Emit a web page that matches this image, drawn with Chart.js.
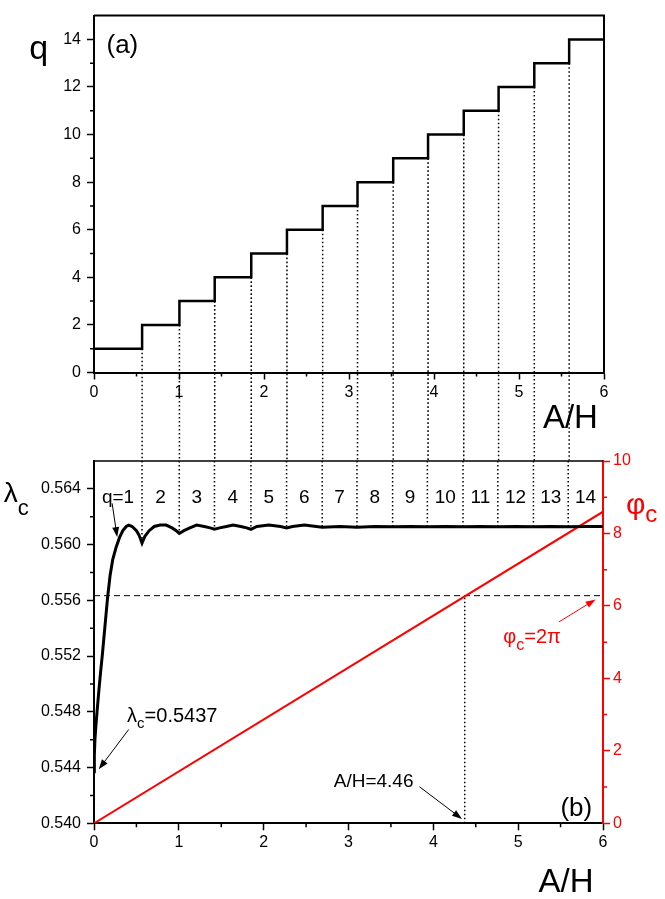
<!DOCTYPE html>
<html lang="en">
<head>
<meta charset="UTF-8">
<title>q and lambda_c versus A/H</title>
<script src="https://cdn.jsdelivr.net/npm/chart.js@4"></script>
<style>
  html, body { margin: 0; padding: 0; background: #fff; }
  #wrap { position: relative; width: 665px; height: 899px; }
  #wrap canvas { position: absolute; left: 0; top: 0; }
</style>
</head>
<body>
<div id="wrap">
  <canvas id="chartQ" width="665" height="899"></canvas>
  <canvas id="chartLam" width="665" height="899"></canvas>
</div>
<script>
// ---- data ----
// panel (a): q jumps to the next integer at these A/H values
const stepX = [0, 0.566, 1.005, 1.42, 1.85, 2.27, 2.69, 3.10, 3.52, 3.93, 4.35, 4.76, 5.18, 5.59];
const qValues = [1, 2, 3, 4, 5, 6, 7, 8, 9, 10, 11, 12, 13, 14];
const xMax = 6;

// panel (b): lambda_c(A/H)
const lamX = [0, 0.004, 0.012, 0.025, 0.04, 0.06, 0.08, 0.10, 0.13, 0.16, 0.19, 0.22, 0.26, 0.30, 0.34, 0.38, 0.41, 0.45, 0.50, 0.53,
              0.566, 0.60, 0.65, 0.71, 0.78, 0.85, 0.92, 0.97, 1.005, 1.06, 1.13, 1.21, 1.30, 1.37, 1.42, 1.48, 1.56, 1.64, 1.73, 1.80,
              1.85, 1.92, 2.06, 2.20, 2.27, 2.34, 2.48, 2.62, 2.69, 2.90, 3.10, 3.31, 3.52, 3.73, 3.93, 4.14, 4.35, 4.55, 4.76, 4.97,
              5.18, 5.38, 5.59, 5.80, 6.0];
const lamY = [0.5437, 0.5449, 0.5461, 0.5472, 0.5483, 0.5497, 0.5510, 0.5522, 0.5542, 0.5562, 0.5578, 0.5589, 0.5598, 0.5605, 0.5610, 0.5613, 0.5614, 0.5613, 0.5610, 0.5607,
              0.5601, 0.5606, 0.5610, 0.5613, 0.5614, 0.5614, 0.5612, 0.5610, 0.5608, 0.5610, 0.5612, 0.5614, 0.5613, 0.5612, 0.5611, 0.5612, 0.5613, 0.5614, 0.5613, 0.5612,
              0.5611, 0.5613, 0.5614, 0.5613, 0.5612, 0.5613, 0.5614, 0.5613, 0.56125, 0.5613, 0.56125, 0.5613, 0.56128, 0.5613, 0.56128, 0.5613, 0.56128, 0.5613, 0.56128, 0.5613,
              0.56128, 0.5613, 0.56128, 0.5613, 0.5613];

// phi_c(A/H), a straight line
const phiX = [0, 6];
const phiY = [0, 8.6];
const phi2pi = 2 * Math.PI;
const xCross = 4.37;

// ticks
const xTicks = [0, 1, 2, 3, 4, 5, 6];
const xMinor = [0.5, 1.5, 2.5, 3.5, 4.5, 5.5];
const qTicks = [0, 2, 4, 6, 8, 10, 12, 14];
const qMinor = [1, 3, 5, 7, 9, 11, 13];
const lamTicks = [0.540, 0.544, 0.548, 0.552, 0.556, 0.560, 0.564];
const lamMinor = [0.542, 0.546, 0.550, 0.554, 0.558, 0.562];
const phiTicks = [0, 2, 4, 6, 8, 10];
const phiMinor = [1, 3, 5, 7, 9];

const FONT = "'Liberation Sans', Arial, Helvetica, sans-serif";
const RED = '#ff0000';
const qGapBottom = -3.7;   // dotted guides run down through the gap into panel (b)
const DOTS = [1.6, 2.4];

function setTicks(list) {
  return s => { s.ticks = list.map(v => ({ value: v })); };
}

function minorTicks(chart, id, vals, len, color) {
  const s = chart.scales[id], ctx = chart.ctx;
  ctx.save();
  ctx.strokeStyle = color;
  ctx.lineWidth = 1.5;
  ctx.beginPath();
  vals.forEach(v => {
    const p = s.getPixelForValue(v);
    if (s.isHorizontal()) { ctx.moveTo(p, s.top); ctx.lineTo(p, s.top + len); }
    else if (s.position === 'left') { ctx.moveTo(s.right, p); ctx.lineTo(s.right - len, p); }
    else { ctx.moveTo(s.left, p); ctx.lineTo(s.left + len, p); }
  });
  ctx.stroke();
  ctx.restore();
}

// parts: [text, size, dy]
function drawText(chart, yId, item) {
  const ctx = chart.ctx;
  const px = chart.scales.x.getPixelForValue(item.x);
  const py = chart.scales[yId].getPixelForValue(item.y);
  ctx.save();
  ctx.fillStyle = item.color || '#000';
  ctx.textBaseline = 'alphabetic';
  ctx.textAlign = 'left';
  let total = 0;
  const w = item.parts.map(p => { ctx.font = p[1] + 'px ' + FONT; const m = ctx.measureText(p[0]).width; total += m; return m; });
  let x = item.align === 'center' ? px - total / 2 : item.align === 'right' ? px - total : px;
  item.parts.forEach((p, i) => {
    ctx.font = p[1] + 'px ' + FONT;
    ctx.fillText(p[0], x, py + (p[2] || 0));
    x += w[i];
  });
  ctx.restore();
}

function drawArrow(chart, yId, a) {
  const ctx = chart.ctx, sx = chart.scales.x, sy = chart.scales[yId];
  const x1 = sx.getPixelForValue(a.from[0]), y1 = sy.getPixelForValue(a.from[1]);
  const x2 = sx.getPixelForValue(a.to[0]), y2 = sy.getPixelForValue(a.to[1]);
  const ang = Math.atan2(y2 - y1, x2 - x1), L = 10, W = 3.5;
  ctx.save();
  ctx.strokeStyle = a.color || '#000';
  ctx.fillStyle = a.color || '#000';
  ctx.lineWidth = 1;
  ctx.beginPath();
  ctx.moveTo(x1, y1);
  ctx.lineTo(x2 - L * 0.8 * Math.cos(ang), y2 - L * 0.8 * Math.sin(ang));
  ctx.stroke();
  ctx.beginPath();
  ctx.moveTo(x2, y2);
  ctx.lineTo(x2 - L * Math.cos(ang) + W * Math.sin(ang), y2 - L * Math.sin(ang) - W * Math.cos(ang));
  ctx.lineTo(x2 - L * Math.cos(ang) - W * Math.sin(ang), y2 - L * Math.sin(ang) + W * Math.cos(ang));
  ctx.closePath();
  ctx.fill();
  ctx.restore();
}

const tickFont = { family: FONT, size: 16 };

// ---------- panel (a) ----------
const labelsA = [
  { parts: [['q', 34]], x: -0.652, y: 13.16, align: 'center' },
  { parts: [['(a)', 26]], x: 0.147, y: 13.43, align: 'left' },
  { parts: [['A/H', 33]], x: 5.605, y: -2.32, align: 'center' }
];

const panelA = {
  id: 'panelA',
  afterDraw(chart) {
    const ctx = chart.ctx, a = chart.chartArea;
    ctx.save();
    ctx.strokeStyle = '#000';
    ctx.lineWidth = 2;
    ctx.beginPath();
    ctx.moveTo(a.left, a.top);
    ctx.lineTo(a.right, a.top);
    ctx.lineTo(a.right, a.bottom);
    ctx.stroke();
    ctx.restore();
    minorTicks(chart, 'x', xMinor, 4, '#000');
    minorTicks(chart, 'y', qMinor, 4, '#000');
    labelsA.forEach(l => drawText(chart, 'y', l));
  }
};

const stepData = stepX.map((x, i) => ({ x, y: qValues[i] }));
stepData.push({ x: xMax, y: qValues[qValues.length - 1] });

new Chart(document.getElementById('chartQ'), {
  type: 'line',
  data: {
    datasets: [
      { data: stepData, stepped: 'before', borderColor: '#000', borderWidth: 2.5, pointRadius: 0 },
      ...stepX.slice(1).map((x, i) => ({
        data: [{ x, y: qValues[i] }, { x, y: qGapBottom }],
        borderColor: '#000', borderWidth: 1.5, borderDash: DOTS, pointRadius: 0, clip: false
      }))
    ]
  },
  options: {
    responsive: false,
    animation: false,
    devicePixelRatio: 1,
    layout: { padding: { left: 0, top: 14, right: 61, bottom: 486.5 } },
    plugins: { legend: { display: false }, tooltip: { enabled: false } },
    scales: {
      x: {
        type: 'linear', min: 0, max: xMax,
        afterBuildTicks: setTicks(xTicks),
        afterFit: s => { s.height = 40; },
        grid: { drawOnChartArea: false, tickLength: 7, tickColor: '#000', tickWidth: 1.5 },
        border: { color: '#000', width: 2 },
        ticks: { color: '#000', font: tickFont, padding: 3, maxRotation: 0 }
      },
      y: {
        type: 'linear', min: 0, max: 15,
        afterBuildTicks: setTicks(qTicks),
        afterFit: s => { s.width = 94; },
        grid: { drawOnChartArea: false, tickLength: 7, tickColor: '#000', tickWidth: 1.5 },
        border: { color: '#000', width: 2 },
        ticks: { color: '#000', font: tickFont, padding: 6 }
      }
    }
  },
  plugins: [panelA]
});

// ---------- panel (b) ----------
const labelsB = [
  { parts: [['λ', 28], ['c', 22, 13]], x: -1.064, y: 8.86, align: 'left' },
  { parts: [['φ', 30], ['c', 24, 8]], x: 6.27, y: 8.54, align: 'left', color: RED },
  { parts: [['λ', 20], ['c', 15, 6.5], ['=0.5437', 20]], x: 0.39, y: 2.80, align: 'left' },
  { parts: [['φ', 20], ['c', 16, 7], ['=2π', 20]], x: 4.824, y: 4.98, align: 'left', color: RED },
  { parts: [['A/H=4.46', 19]], x: 3.766, y: 0.993, align: 'right' },
  { parts: [['(b)', 26]], x: 5.873, y: 0.193, align: 'right' },
  { parts: [['A/H', 33]], x: 5.564, y: -1.895, align: 'center' }
];
stepX.forEach((x, i) => {
  const next = i + 1 < stepX.length ? stepX[i + 1] : xMax;
  labelsB.push({ parts: [[i === 0 ? 'q=' + qValues[i] : String(qValues[i]), 19]], x: (x + next) / 2, y: 8.83, align: 'center' });
});

const arrowsB = [
  { from: [0.214, 8.83], to: [0.273, 7.90] },
  { from: [0.409, 2.59], to: [0.056, 1.49] },
  { from: [5.482, 5.56], to: [5.913, 6.18], color: RED },
  { from: [3.836, 1.01], to: [4.338, 0.12] }
];

const panelB = {
  id: 'panelB',
  afterDraw(chart) {
    const ctx = chart.ctx, a = chart.chartArea;
    ctx.save();
    ctx.strokeStyle = '#000';
    ctx.lineWidth = 1.5;
    ctx.beginPath();
    ctx.moveTo(a.left, a.top);
    ctx.lineTo(a.right, a.top);
    ctx.stroke();
    ctx.restore();
    minorTicks(chart, 'x', xMinor, 4, '#000');
    minorTicks(chart, 'y', lamMinor, 4, '#000');
    minorTicks(chart, 'y2', phiMinor, 4, RED);
    labelsB.forEach(l => drawText(chart, 'y2', l));
    arrowsB.forEach(ar => drawArrow(chart, 'y2', ar));
  }
};

const lamMax = 0.566;

new Chart(document.getElementById('chartLam'), {
  type: 'line',
  data: {
    datasets: [
      { data: lamX.map((x, i) => ({ x, y: lamY[i] })), yAxisID: 'y', borderColor: '#000', borderWidth: 3, pointRadius: 0, tension: 0 },
      { data: phiX.map((x, i) => ({ x, y: phiY[i] })), yAxisID: 'y2', borderColor: RED, borderWidth: 2, pointRadius: 0 },
      { data: [{ x: 0, y: phi2pi }, { x: xMax, y: phi2pi }], yAxisID: 'y2', borderColor: '#000', borderWidth: 1, borderDash: [6, 4], pointRadius: 0 },
      { data: [{ x: xCross, y: 0 }, { x: xCross, y: phi2pi }], yAxisID: 'y2', borderColor: '#000', borderWidth: 1.5, borderDash: DOTS, pointRadius: 0 },
      ...stepX.slice(1).map(x => ({
        data: [{ x, y: lamMax }, { x, y: lamY[lamX.indexOf(x)] }],
        yAxisID: 'y', borderColor: '#000', borderWidth: 1.5, borderDash: DOTS, pointRadius: 0, clip: false
      }))
    ]
  },
  options: {
    responsive: false,
    animation: false,
    devicePixelRatio: 1,
    layout: { padding: { left: 0, top: 461, right: 0, bottom: 35.7 } },
    plugins: { legend: { display: false }, tooltip: { enabled: false } },
    scales: {
      x: {
        type: 'linear', min: 0, max: xMax,
        afterBuildTicks: setTicks(xTicks),
        afterFit: s => { s.height = 40; },
        grid: { drawOnChartArea: false, tickLength: 7, tickColor: '#000', tickWidth: 1.5 },
        border: { color: '#000', width: 2 },
        ticks: { color: '#000', font: tickFont, padding: 3, maxRotation: 0 }
      },
      y: {
        type: 'linear', position: 'left', min: 0.540, max: lamMax,
        afterBuildTicks: setTicks(lamTicks),
        afterFit: s => { s.width = 94; },
        grid: { drawOnChartArea: false, tickLength: 7, tickColor: '#000', tickWidth: 1.5 },
        border: { color: '#000', width: 2 },
        ticks: { color: '#000', font: tickFont, padding: 6, callback: v => v.toFixed(3) }
      },
      y2: {
        type: 'linear', position: 'right', min: 0, max: 10,
        afterBuildTicks: setTicks(phiTicks),
        afterFit: s => { s.width = 62; },
        grid: { drawOnChartArea: false, tickLength: 7, tickColor: RED, tickWidth: 1.5 },
        border: { color: RED, width: 2 },
        ticks: { color: RED, font: tickFont, padding: 3 }
      }
    }
  },
  plugins: [panelB]
});
</script>
</body>
</html>
